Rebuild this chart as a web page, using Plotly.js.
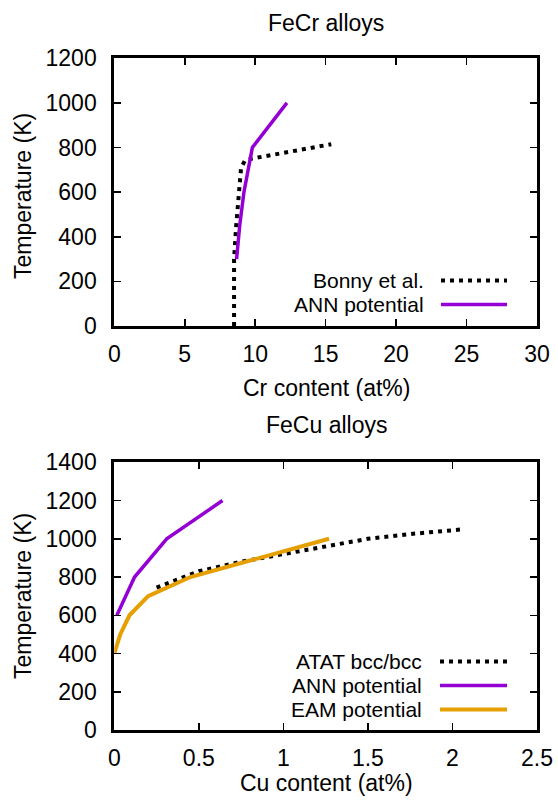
<!DOCTYPE html>
<html>
<head>
<meta charset="utf-8">
<script src="https://cdn.plot.ly/plotly-3.0.1.min.js"></script>
<style>
html,body{margin:0;padding:0;background:#fff;}
#chart{width:558px;height:802px;}
</style>
</head>
<body>
<div id="chart"></div>
<script>
// ---- FeCr data ----
const crBonnyX = [8.5, 8.5, 8.65, 8.85, 9.0, 9.3, 15.4];
const crBonnyT = [0, 300, 450, 600, 710, 745, 815];
const crAnnX = [8.68, 8.9, 9.2, 9.5, 9.8, 12.25];
const crAnnT = [300, 450, 600, 700, 800, 1000];
// ---- FeCu data ----
const cuAtatX = [0.25, 0.5, 0.75, 1.0, 1.25, 1.5, 1.75, 2.07];
const cuAtatT = [745, 830, 880, 920, 960, 1000, 1025, 1050];
const cuAnnX = [0.015, 0.12, 0.31, 0.64];
const cuAnnT = [600, 800, 1000, 1200];
const cuEamX = [0.0, 0.035, 0.09, 0.2, 0.45, 0.86, 1.27];
const cuEamT = [400, 500, 600, 700, 800, 900, 1000];
// ---- ticks / labels ----
const crTicks = [0, 5, 10, 15, 20, 25, 30];
const crTTicks = [0, 200, 400, 600, 800, 1000, 1200];
const cuTicks = [0, 0.5, 1, 1.5, 2, 2.5];
const cuTTicks = [0, 200, 400, 600, 800, 1000, 1200, 1400];
const titles = ["FeCr alloys", "FeCu alloys"];
const xTitles = ["Cr content (at%)", "Cu content (at%)"];
const yTitle = "Temperature (K)";
const legendTop = ["Bonny et al.", "ANN potential"];
const legendBottom = ["ATAT bcc/bcc", "ANN potential", "EAM potential"];

const PURPLE = "#9400D3", ORANGE = "#E69F00", BLACK = "#000000";
const FAMILY = "Liberation Sans, Arial, Helvetica, sans-serif";
const FONT = {family: FAMILY, size: 23, color: "#000"};
const LFONT = {family: FAMILY, size: 21, color: "#000"};
const W = 558, H = 802;
const px = v => v / W, py = v => 1 - v / H;

const dotted = {color: BLACK, width: 4, dash: "4px,5px"};

const traces = [
  {x: crBonnyX, y: crBonnyT, xaxis: "x", yaxis: "y", mode: "lines", line: dotted, name: legendTop[0]},
  {x: crAnnX, y: crAnnT, xaxis: "x", yaxis: "y", mode: "lines", line: {color: PURPLE, width: 3.5}, name: legendTop[1]},
  {x: cuAtatX, y: cuAtatT, xaxis: "x2", yaxis: "y2", mode: "lines", line: dotted, name: legendBottom[0]},
  {x: cuAnnX, y: cuAnnT, xaxis: "x2", yaxis: "y2", mode: "lines", line: {color: PURPLE, width: 3.5}, name: legendBottom[1]},
  {x: cuEamX, y: cuEamT, xaxis: "x2", yaxis: "y2", mode: "lines", line: {color: ORANGE, width: 4}, name: legendBottom[2]}
];

function axisBase(extra) {
  return Object.assign({
    showgrid: false, zeroline: false, showline: true, linecolor: "#000", linewidth: 3,
    mirror: "allticks", ticks: "inside", ticklen: 7, tickwidth: 1.5, tickcolor: "#000",
    tickfont: FONT, tickmode: "array", fixedrange: true
  }, extra);
}

function ann(text, x, y, font, extra) {
  return Object.assign({text: text, x: px(x), y: py(y), xref: "paper", yref: "paper",
    showarrow: false, font: font, xanchor: "center", yanchor: "middle"}, extra || {});
}

const xDom = [px(114.3), px(537)];
const layout = {
  width: W, height: H,
  margin: {l: 0, r: 0, t: 0, b: 0},
  paper_bgcolor: "#fff", plot_bgcolor: "#fff",
  showlegend: false,
  font: FONT,
  xaxis: axisBase({domain: xDom, range: [0, 30], tickvals: crTicks, anchor: "y", ticklabelstandoff: 5}),
  yaxis: axisBase({domain: [py(326), py(58.3)], range: [0, 1200], tickvals: crTTicks, anchor: "x", ticklabelstandoff: 10}),
  xaxis2: axisBase({domain: xDom, range: [0, 2.5], tickvals: cuTicks, anchor: "y2", ticklabelstandoff: 5}),
  yaxis2: axisBase({domain: [py(730), py(462.3)], range: [0, 1400], tickvals: cuTTicks, anchor: "x2", ticklabelstandoff: 10}),
  annotations: [
    ann(titles[0], 326, 23, FONT),
    ann(titles[1], 326, 425, FONT),
    ann(xTitles[0], 326, 388, FONT),
    ann(xTitles[1], 326, 783, FONT),
    ann(yTitle, 23, 196, FONT, {textangle: -90}),
    ann(yTitle, 23, 596, FONT, {textangle: -90}),
    ann(legendTop[0], 426, 280.5, LFONT, {xanchor: "right"}),
    ann(legendTop[1], 426, 304.5, LFONT, {xanchor: "right"}),
    ann(legendBottom[0], 424, 661.5, LFONT, {xanchor: "right"}),
    ann(legendBottom[1], 424, 685.5, LFONT, {xanchor: "right"}),
    ann(legendBottom[2], 424, 709.5, LFONT, {xanchor: "right"})
  ],
  shapes: [
    {type: "line", xref: "paper", yref: "paper", x0: px(441), x1: px(507), y0: py(280.5), y1: py(280.5), line: dotted},
    {type: "line", xref: "paper", yref: "paper", x0: px(441), x1: px(507), y0: py(304.5), y1: py(304.5), line: {color: PURPLE, width: 3.5}},
    {type: "line", xref: "paper", yref: "paper", x0: px(440), x1: px(507), y0: py(661.5), y1: py(661.5), line: dotted},
    {type: "line", xref: "paper", yref: "paper", x0: px(440), x1: px(507), y0: py(685.5), y1: py(685.5), line: {color: PURPLE, width: 3.5}},
    {type: "line", xref: "paper", yref: "paper", x0: px(440), x1: px(507), y0: py(709.5), y1: py(709.5), line: {color: ORANGE, width: 4}}
  ]
};

Plotly.newPlot("chart", traces, layout, {staticPlot: true, displayModeBar: false});
</script>
</body>
</html>
